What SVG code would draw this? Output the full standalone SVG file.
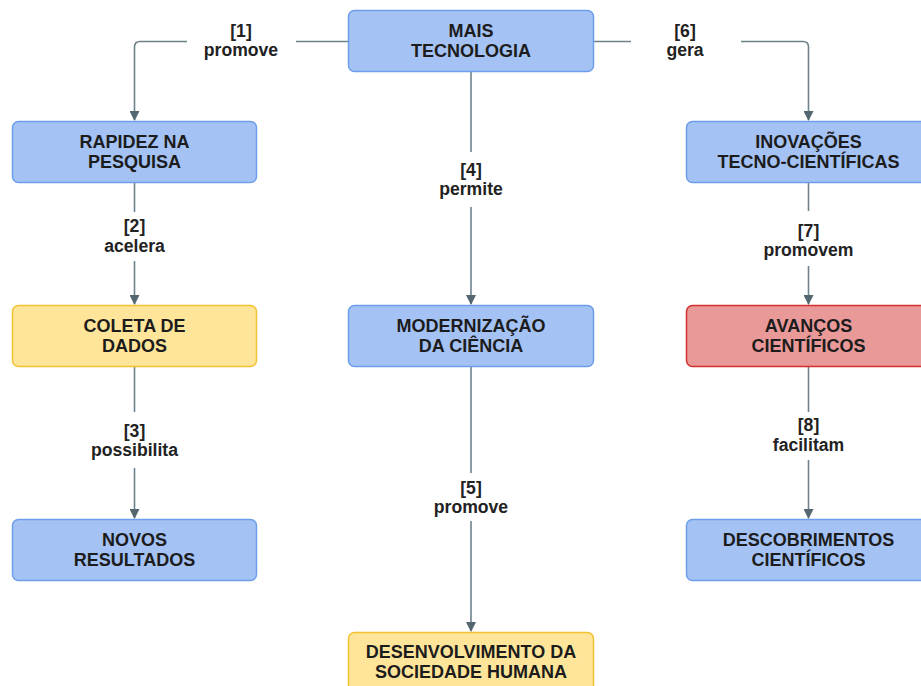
<svg xmlns="http://www.w3.org/2000/svg" width="921" height="686" viewBox="0 0 921 686">
  <defs>
    <marker id="arrow" markerWidth="10" markerHeight="10" refX="9" refY="5" orient="auto" markerUnits="userSpaceOnUse">
      <path d="M0,0 L10,5 L0,10 Z" fill="#546670"/>
    </marker>
    <style>
      .node rect { stroke-width: 1.5; }
      .blue rect { fill: #a4c2f4; stroke: #6d9eeb; }
      .yellow rect { fill: #ffe599; stroke: #f1c232; }
      .red rect { fill: #ea9999; stroke: #d32f2f; }
      .node text { font-family: "Liberation Sans", Arial, sans-serif; font-weight: bold; font-size: 18px; fill: #1c1c1c; text-anchor: middle; }
      .edge { fill: none; stroke: #6f828c; stroke-width: 1.6; }
      .label { font-family: "Liberation Sans", Arial, sans-serif; font-weight: bold; font-size: 17.6px; fill: #222; text-anchor: middle; }
    </style>
  </defs>
  <rect width="921" height="686" fill="#ffffff"/>

  <!-- connectors -->
  <g id="connectors">
    <path class="edge" d="M348,41.5 H296"/>
    <path class="edge" d="M187,41.5 H140 Q134.5,41.5 134.5,47 V120" marker-end="url(#arrow)"/>
    <path class="edge" d="M594,41.5 H631"/>
    <path class="edge" d="M741,41.5 H803 Q808.5,41.5 808.5,47 V120" marker-end="url(#arrow)"/>
    <path class="edge" d="M471,72 V152"/>
    <path class="edge" d="M471,207 V304" marker-end="url(#arrow)"/>
    <path class="edge" d="M471,367 V473"/>
    <path class="edge" d="M471,521 V631" marker-end="url(#arrow)"/>
    <path class="edge" d="M134.5,183 V212"/>
    <path class="edge" d="M134.5,261 V304" marker-end="url(#arrow)"/>
    <path class="edge" d="M134.5,367 V412"/>
    <path class="edge" d="M134.5,468 V518" marker-end="url(#arrow)"/>
    <path class="edge" d="M808.5,183 V211"/>
    <path class="edge" d="M808.5,266 V304" marker-end="url(#arrow)"/>
    <path class="edge" d="M808.5,367 V412"/>
    <path class="edge" d="M808.5,460 V518" marker-end="url(#arrow)"/>

    <text class="label" x="241" y="37">[1]</text>
    <text class="label" x="241" y="56">promove</text>
    <text class="label" x="685" y="37">[6]</text>
    <text class="label" x="685" y="56">gera</text>
    <text class="label" x="471" y="176">[4]</text>
    <text class="label" x="471" y="195">permite</text>
    <text class="label" x="471" y="494">[5]</text>
    <text class="label" x="471" y="513">promove</text>
    <text class="label" x="134.5" y="232">[2]</text>
    <text class="label" x="134.5" y="252">acelera</text>
    <text class="label" x="134.5" y="437">[3]</text>
    <text class="label" x="134.5" y="456">possibilita</text>
    <text class="label" x="808.5" y="237">[7]</text>
    <text class="label" x="808.5" y="256">promovem</text>
    <text class="label" x="808.5" y="431">[8]</text>
    <text class="label" x="808.5" y="451">facilitam</text>
  </g>

  <!-- nodes -->
  <g id="mais-tecnologia" class="node blue">
    <rect x="348.5" y="10.5" width="245" height="61" rx="6"/>
    <text x="471" y="37">MAIS</text>
    <text x="471" y="57">TECNOLOGIA</text>
  </g>
  <g id="rapidez" class="node blue">
    <rect x="12.5" y="121.5" width="244" height="61" rx="6"/>
    <text x="134.5" y="148">RAPIDEZ NA</text>
    <text x="134.5" y="168">PESQUISA</text>
  </g>
  <g id="inovacoes" class="node blue">
    <rect x="686.5" y="121.5" width="244" height="61" rx="6"/>
    <text x="808.5" y="148">INOVAÇÕES</text>
    <text x="808.5" y="168">TECNO-CIENTÍFICAS</text>
  </g>
  <g id="coleta" class="node yellow">
    <rect x="12.5" y="305.5" width="244" height="61" rx="6"/>
    <text x="134.5" y="332">COLETA DE</text>
    <text x="134.5" y="352">DADOS</text>
  </g>
  <g id="modernizacao" class="node blue">
    <rect x="348.5" y="305.5" width="245" height="61" rx="6"/>
    <text x="471" y="332">MODERNIZAÇÃO</text>
    <text x="471" y="352">DA CIÊNCIA</text>
  </g>
  <g id="avancos" class="node red">
    <rect x="686.5" y="305.5" width="244" height="61" rx="6"/>
    <text x="808.5" y="332">AVANÇOS</text>
    <text x="808.5" y="352">CIENTÍFICOS</text>
  </g>
  <g id="novos" class="node blue">
    <rect x="12.5" y="519.5" width="244" height="61" rx="6"/>
    <text x="134.5" y="546">NOVOS</text>
    <text x="134.5" y="566">RESULTADOS</text>
  </g>
  <g id="descobrimentos" class="node blue">
    <rect x="686.5" y="519.5" width="244" height="61" rx="6"/>
    <text x="808.5" y="546">DESCOBRIMENTOS</text>
    <text x="808.5" y="566">CIENTÍFICOS</text>
  </g>
  <g id="desenvolvimento" class="node yellow">
    <rect x="348.5" y="632.5" width="245" height="61" rx="6"/>
    <text x="471" y="658">DESENVOLVIMENTO DA</text>
    <text x="471" y="678">SOCIEDADE HUMANA</text>
  </g>
</svg>
